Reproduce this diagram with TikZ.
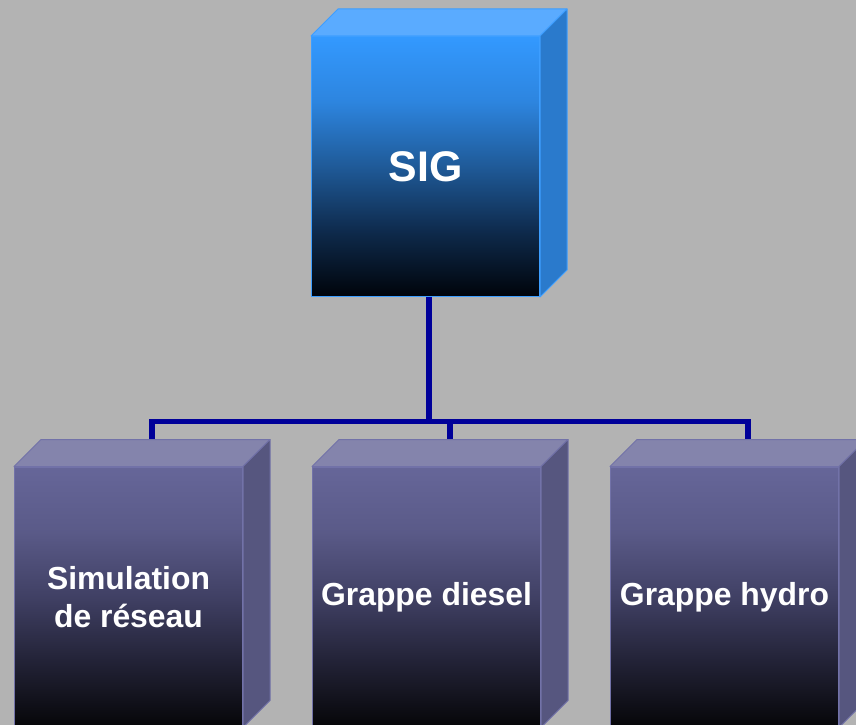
\documentclass[tikz,border=0pt]{standalone}
\usepackage{fontspec}
\setmainfont{Liberation Sans}
\usetikzlibrary{positioning, calc}

\definecolor{fond}{HTML}{B3B3B3}
\definecolor{lien}{HTML}{000099}
% bleu du SIG
\definecolor{sigDessus}{HTML}{5AABFF}
\definecolor{sigCote}{HTML}{2A7ACC}
\definecolor{sigBord}{HTML}{3D9EFF}
\definecolor{sigA}{RGB}{0,4,10}
\definecolor{sigB}{RGB}{14,42,76}
\definecolor{sigC}{RGB}{31,90,152}
\definecolor{sigD}{RGB}{45,133,223}
\definecolor{sigE}{RGB}{51,153,255}
% la face occupe la bande 25bp--75bp de la teinte
\pgfdeclareverticalshading{sigdegrade}{100bp}{%
    color(0bp)=(sigA); color(25bp)=(sigA); color(37.5bp)=(sigB);
    color(50bp)=(sigC); color(62.5bp)=(sigD); color(75bp)=(sigE); color(100bp)=(sigE)}
% violet des grappes
\definecolor{grDessus}{HTML}{8484AC}
\definecolor{grCote}{HTML}{56567F}
\definecolor{grBord}{HTML}{7272A8}
\definecolor{grA}{RGB}{6,6,8}
\definecolor{grB}{RGB}{34,34,54}
\definecolor{grC}{RGB}{64,64,100}
\definecolor{grD}{RGB}{90,90,136}
\definecolor{grE}{RGB}{102,102,153}
\pgfdeclareverticalshading{grdegrade}{100bp}{%
    color(0bp)=(grA); color(25bp)=(grA); color(37.5bp)=(grB);
    color(50bp)=(grC); color(62.5bp)=(grD); color(75bp)=(grE); color(100bp)=(grE)}

\begin{document}
\begin{tikzpicture}[x=1bp, y=-1bp,
    face/.style={minimum width=228bp, minimum height=260bp, inner sep=0pt,
        line width=1bp, text=white, align=center},
    sigface/.style={face, draw=sigBord, shade, shading=sigdegrade,
        font=\fontsize{43}{50}\selectfont\bfseries},
    grface/.style={face, draw=grBord, shade, shading=grdegrade,
        font=\fontsize{32}{38}\selectfont\bfseries},
    lienstyle/.style={draw=lien, line width=5.5bp}]
    \fill[fond] (0,0) rectangle (856,725);
    \useasboundingbox (0,0) rectangle (856,725);

    % Boîtes (faces avant)
    \node[sigface] (sig) at (425.5,166.5) {SIG};
    \node[grface] (sim) at (128.5,597) {Simulation\\de réseau};
    \node[grface, right=69bp of sim] (diesel) {Grappe diesel};
    \node[grface, right=69bp of diesel] (hydro) {Grappe hydro};

    % Liaisons
    \coordinate (rail) at ($(sig.south)+(3.5,124.5)$);
    \foreach \b in {sim, diesel, hydro}{
        \coordinate (\b-t) at ($(\b.north)+(23.5,-27)$);
    }
    \draw[lienstyle] ($(sig.south)+(3.5,0)$) -- (rail);
    \draw[lienstyle] (sim-t) -- (sim-t|-rail) -- (hydro-t|-rail) -- (hydro-t);
    \draw[lienstyle] (diesel-t|-rail) -- (diesel-t);

    % Dessus et côtés en relief
    \foreach \b/\c in {sig/sig, sim/gr, diesel/gr, hydro/gr}{
        \filldraw[fill=\c Dessus, draw=\c Bord, line width=1bp, line join=round]
            (\b.north west) -- ++(27,-27) -- ($(\b.north east)+(27,-27)$)
            -- (\b.north east) -- cycle;
        \filldraw[fill=\c Cote, draw=\c Bord, line width=1bp, line join=round]
            (\b.north east) -- ++(27,-27) -- ($(\b.south east)+(27,-27)$)
            -- (\b.south east) -- cycle;
    }
\end{tikzpicture}
\end{document}
